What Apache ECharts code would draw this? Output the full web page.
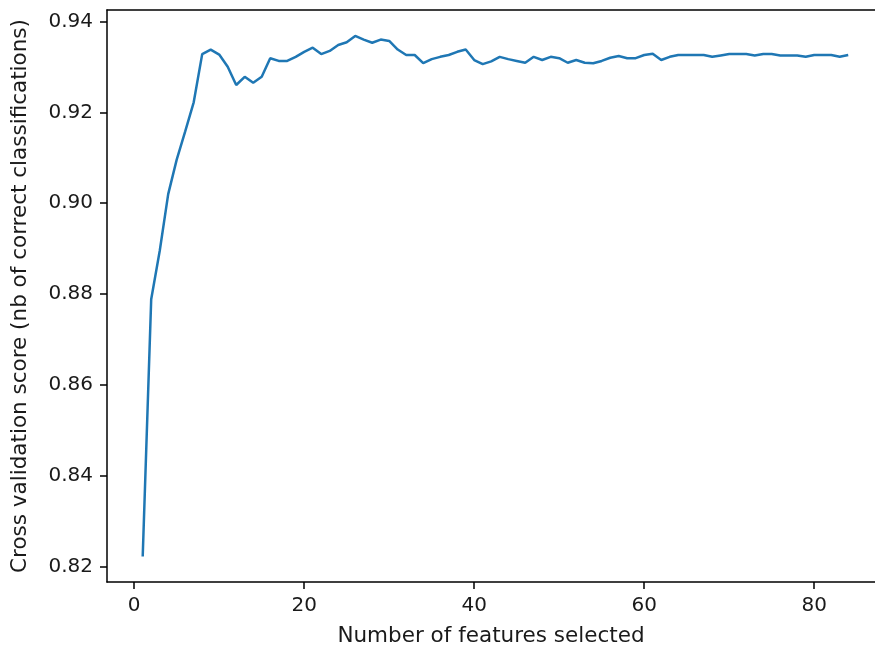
<!DOCTYPE html>
<html>
<head>
<meta charset="utf-8">
<script src="https://cdn.jsdelivr.net/npm/echarts@6/dist/echarts.min.js"></script>
<style>
  html, body { margin: 0; padding: 0; background: #fff; }
  #chart { width: 875px; height: 650px; }
</style>
</head>
<body>
<div id="chart"></div>
<script>
// number of features (1..84) and the CV score for each
const featureCounts = [];
for (let n = 1; n <= 84; n++) featureCounts.push(n);

const scores = [
  0.8223, 0.8789, 0.8895, 0.9020, 0.9096, 0.9158, 0.9222, 0.9328, 0.9338, 0.9327,
  0.9300, 0.9260, 0.9278, 0.9265, 0.9278, 0.9319, 0.9313, 0.9313, 0.9322, 0.9333,
  0.9342, 0.9328, 0.9335, 0.9348, 0.9354, 0.9368, 0.9360, 0.9353, 0.9360, 0.9357,
  0.9338, 0.9326, 0.9326, 0.9308, 0.9317, 0.9322, 0.9326, 0.9333, 0.9338, 0.9315,
  0.9306, 0.9312, 0.9322, 0.9317, 0.9313, 0.9309, 0.9322, 0.9315, 0.9322, 0.9319,
  0.9309, 0.9315, 0.9309, 0.9308, 0.9313, 0.9320, 0.9324, 0.9319, 0.9319, 0.9326,
  0.9329, 0.9315, 0.9322, 0.9326, 0.9326, 0.9326, 0.9326, 0.9322, 0.9325, 0.9328,
  0.9328, 0.9328, 0.9325, 0.9328, 0.9328, 0.9325, 0.9325, 0.9325, 0.9322, 0.9326,
  0.9326, 0.9326, 0.9322, 0.9326
];

const xTicks = [0, 20, 40, 60, 80];
const yTicks = [0.82, 0.84, 0.86, 0.88, 0.90, 0.92, 0.94];

const chart = echarts.init(document.getElementById('chart'));

const tickText = { color: '#1a1a1a', fontFamily: 'DejaVu Sans', fontSize: 20 };
const nameText = { color: '#1a1a1a', fontFamily: 'DejaVu Sans', fontSize: 21.5 };
const spine = { color: '#000', width: 1.5 };

chart.setOption({
  animation: false,
  grid: { left: 107, right: 0, top: 10, bottom: 68, containLabel: false, outerBoundsMode: 'none' },
  xAxis: [{
    type: 'value',
    min: -3.2,
    max: 87.15,
    name: 'Number of features selected',
    nameLocation: 'middle',
    nameGap: 43,
    nameTextStyle: nameText,
    axisLine: { onZero: false, lineStyle: spine },
    axisTick: { show: true, length: 7, lineStyle: spine, customValues: xTicks },
    axisLabel: Object.assign({ margin: 14, customValues: xTicks }, tickText),
    splitLine: { show: false }
  }, {
    // top spine only
    type: 'value',
    position: 'top',
    min: -3.2,
    max: 87.15,
    axisLine: { show: true, onZero: false, lineStyle: spine },
    axisTick: { show: false },
    axisLabel: { show: false },
    splitLine: { show: false }
  }],
  yAxis: {
    type: 'value',
    min: 0.8167,
    max: 0.9425,
    name: 'Cross validation score (nb of correct classifications)',
    nameLocation: 'middle',
    nameGap: 76,
    nameTextStyle: nameText,
    axisLine: { show: true, onZero: false, lineStyle: spine },
    axisTick: { show: true, length: 7, lineStyle: spine, customValues: yTicks },
    axisLabel: Object.assign({
      margin: 14,
      customValues: yTicks,
      formatter: v => v.toFixed(2)
    }, tickText),
    splitLine: { show: false }
  },
  series: [{
    type: 'line',
    data: featureCounts.map((n, i) => [n, scores[i]]),
    showSymbol: false,
    lineStyle: { color: '#1f77b4', width: 2.5 },
    itemStyle: { color: '#1f77b4' }
  }]
});
</script>
</body>
</html>
